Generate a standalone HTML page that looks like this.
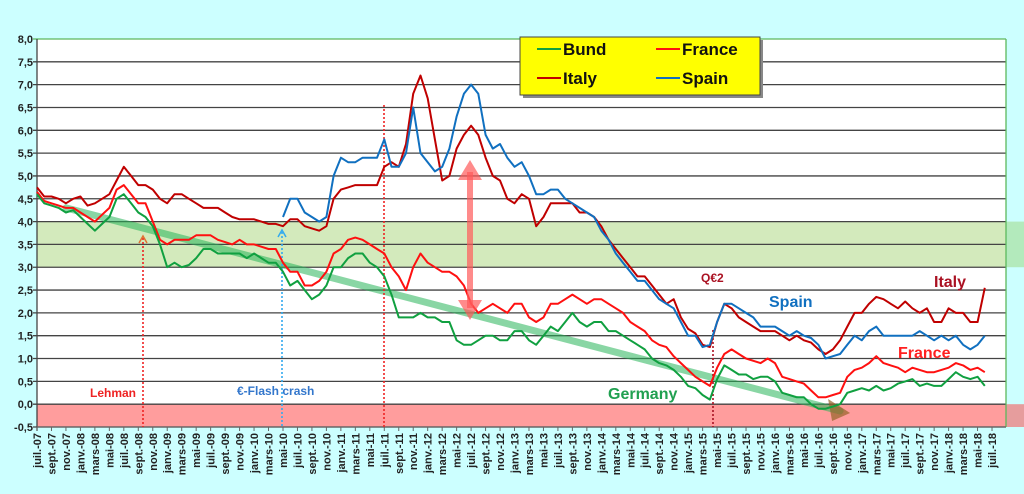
<!DOCTYPE html>
<html><head><meta charset="utf-8"><style>
html,body{margin:0;padding:0;background:#ccffff;}
svg{display:block;font-family:"Liberation Sans",Arial,sans-serif;}
</style></head><body>
<svg id="chart" width="1024" height="494" viewBox="0 0 1024 494" xmlns="http://www.w3.org/2000/svg">
<rect x="0" y="0" width="1024" height="494" fill="#ccffff"/>
<rect x="37" y="39" width="969" height="388" fill="#ffffff"/>
<g id="bands"></g>
<g id="grid"></g>
<g id="yticks"></g>
<g id="xticks"></g>
<g id="annot"></g>
<g id="series"></g>
<g id="overlay"></g>
</svg>
<script>
const yTicks=["-0,5","0,0","0,5","1,0","1,5","2,0","2,5","3,0","3,5","4,0","4,5","5,0","5,5","6,0","6,5","7,0","7,5","8,0"];
const monthNames=["juil.","sept.","nov.","janv.","mars","mai"];
const bund=[4.6,4.4,4.35,4.3,4.2,4.25,4.1,3.95,3.8,3.95,4.1,4.5,4.6,4.4,4.2,4.1,3.9,3.5,3.0,3.1,3.0,3.05,3.2,3.4,3.4,3.3,3.3,3.3,3.3,3.2,3.3,3.2,3.1,3.1,2.9,2.6,2.7,2.5,2.3,2.4,2.6,3.0,3.0,3.2,3.3,3.3,3.1,3.0,2.8,2.4,1.9,1.9,1.9,2.0,1.9,1.9,1.8,1.8,1.4,1.3,1.3,1.4,1.5,1.5,1.4,1.4,1.6,1.6,1.4,1.3,1.5,1.7,1.6,1.8,2.0,1.8,1.7,1.8,1.8,1.6,1.6,1.5,1.4,1.3,1.2,1.0,0.9,0.85,0.75,0.6,0.4,0.35,0.2,0.1,0.55,0.85,0.75,0.65,0.65,0.55,0.6,0.6,0.5,0.25,0.2,0.15,0.15,0.0,-0.1,-0.1,-0.05,0.0,0.25,0.3,0.35,0.3,0.4,0.3,0.35,0.45,0.5,0.55,0.4,0.45,0.4,0.4,0.55,0.7,0.6,0.55,0.6,0.4];
const france=[4.65,4.45,4.4,4.35,4.3,4.3,4.2,4.1,4.0,4.15,4.3,4.7,4.8,4.6,4.4,4.4,4.0,3.6,3.5,3.6,3.6,3.6,3.7,3.7,3.7,3.6,3.55,3.5,3.6,3.5,3.5,3.45,3.4,3.4,3.1,2.9,2.9,2.6,2.6,2.7,2.9,3.3,3.4,3.6,3.65,3.6,3.5,3.4,3.3,3.0,2.8,2.5,3.0,3.3,3.1,3.0,2.9,2.9,2.8,2.6,2.2,2.0,2.1,2.2,2.1,2.0,2.2,2.2,1.9,1.8,1.9,2.2,2.2,2.3,2.4,2.3,2.2,2.3,2.3,2.2,2.1,2.0,1.8,1.7,1.6,1.4,1.3,1.25,1.05,0.9,0.75,0.6,0.5,0.4,0.8,1.1,1.2,1.1,1.0,0.95,0.9,1.0,0.9,0.6,0.55,0.5,0.45,0.3,0.15,0.15,0.2,0.25,0.6,0.75,0.8,0.9,1.05,0.9,0.85,0.8,0.7,0.8,0.75,0.7,0.7,0.75,0.8,0.9,0.85,0.75,0.8,0.7];
const italy=[4.75,4.55,4.55,4.5,4.4,4.5,4.55,4.35,4.4,4.5,4.6,4.9,5.2,5.0,4.8,4.8,4.7,4.5,4.4,4.6,4.6,4.5,4.4,4.3,4.3,4.3,4.2,4.1,4.05,4.05,4.05,4.0,3.95,3.95,3.9,4.05,4.05,3.9,3.85,3.8,3.9,4.5,4.7,4.75,4.8,4.8,4.8,4.8,5.2,5.3,5.2,5.7,6.8,7.2,6.7,5.8,4.9,5.0,5.6,5.9,6.1,5.9,5.4,5.0,4.9,4.5,4.4,4.6,4.5,3.9,4.1,4.4,4.4,4.4,4.4,4.2,4.2,4.1,3.9,3.6,3.4,3.2,3.0,2.8,2.8,2.6,2.4,2.2,2.3,1.9,1.65,1.55,1.3,1.25,1.8,2.2,2.1,1.9,1.8,1.7,1.6,1.6,1.6,1.5,1.4,1.5,1.4,1.35,1.2,1.1,1.2,1.4,1.7,2.0,2.0,2.2,2.35,2.3,2.2,2.1,2.25,2.1,2.0,2.1,1.8,1.8,2.1,2.0,2.0,1.8,1.8,2.55];
const spainStart=34;
const spain=[4.1,4.5,4.5,4.2,4.1,4.0,4.1,5.0,5.4,5.3,5.3,5.4,5.4,5.4,5.8,5.2,5.2,5.5,6.5,5.5,5.3,5.1,5.2,5.6,6.3,6.8,7.0,6.8,5.9,5.6,5.7,5.4,5.2,5.3,5.0,4.6,4.6,4.7,4.7,4.5,4.4,4.3,4.2,4.1,3.8,3.6,3.3,3.1,2.9,2.7,2.7,2.5,2.3,2.2,2.1,1.8,1.5,1.5,1.25,1.3,1.8,2.2,2.2,2.1,2.0,1.9,1.7,1.7,1.7,1.6,1.5,1.6,1.5,1.45,1.3,1.0,1.05,1.1,1.3,1.5,1.4,1.6,1.7,1.5,1.5,1.5,1.5,1.5,1.6,1.5,1.4,1.5,1.4,1.5,1.3,1.2,1.3,1.5];
const trendStart=[4,4.3], trendEnd=[111,-0.15];

const NS="http://www.w3.org/2000/svg";
const X0=37,X1=1006,Y0=427,Y1=39,VMIN=-0.5,VMAX=8,MW=7.235;
function xs(m){return X0+m*MW;}
function ys(v){return Y0-(v-VMIN)/(VMAX-VMIN)*(Y0-Y1);}
function mk(tag,attrs,parent){const e=document.createElementNS(NS,tag);for(const k in attrs)e.setAttribute(k,attrs[k]);parent.appendChild(e);return e;}
const gB=document.getElementById('bands'),gG=document.getElementById('grid'),gY=document.getElementById('yticks'),gX=document.getElementById('xticks'),gA=document.getElementById('annot'),gS=document.getElementById('series'),gO=document.getElementById('overlay');

let e;
e=mk('rect',{x:X0,y:ys(4),width:1024-X0,height:ys(3)-ys(4),fill:'rgba(140,200,80,0.38)'},gB);


e=mk('rect',{x:X0,y:ys(0),width:1024-X0,height:ys(-0.5)-ys(0),fill:'rgba(255,60,60,0.5)'},gB);



yTicks.forEach((t,i)=>{const v=VMIN+i*0.5;const y=ys(v);
 const l=mk('line',{x1:X0-4,x2:X1,y1:y,y2:y,stroke:i==yTicks.length-1?'#5cb85c':'#444','stroke-width':1.3},gG);
 
 
 const tx=mk('text',{x:33,y:y+4,'text-anchor':'end','font-size':11,'font-weight':'bold',fill:'#222'},gY);tx.textContent=t;
 
 
});
e=mk('line',{x1:X0,x2:X0,y1:Y1,y2:Y0+4,stroke:'#444','stroke-width':1.3},gG);


e=mk('line',{x1:X1,x2:X1,y1:Y1,y2:Y0,stroke:'#5cb85c','stroke-width':1.3},gG);


e=mk('line',{x1:X0,x2:X1,y1:Y0,y2:Y0,stroke:'#666','stroke-width':1.3},gG);



for(let m=0;m<=132;m+=2){const x=xs(m);const yr=7+Math.floor((m+6)/12);
 const t=mk('line',{x1:x,x2:x,y1:Y0,y2:Y0+4,stroke:'#666'},gX);
 
 
 const lab=monthNames[(m/2)%6]+'-'+String(yr).padStart(2,'0');
 const tx=mk('text',{x:0,y:0,'text-anchor':'end','font-size':11,'font-weight':'bold',fill:'#222',transform:`translate(${x+4},${Y0+6}) rotate(-90)`},gX);tx.textContent=lab;
 
 
}

// trend line
e=mk('line',{x1:xs(trendStart[0]),y1:ys(trendStart[1]),x2:xs(trendEnd[0]),y2:ys(trendEnd[1]),stroke:'rgba(40,180,90,0.55)','stroke-width':7,'stroke-linecap':'round'},gA);


e=mk('polygon',{points:`${xs(trendEnd[0])-12},${ys(trendEnd[1])-12} ${xs(trendEnd[0])+10},${ys(trendEnd[1])+2} ${xs(trendEnd[0])-8},${ys(trendEnd[1])+10}`,fill:'rgba(150,100,40,0.7)'},gA);



function vline(x,y1,color,name){const l=mk('line',{x1:x,x2:x,y1:y1,y2:Y0,stroke:color,'stroke-width':1.6,'stroke-dasharray':'2,2'},gA);return l;}
vline(143,238,'#ee2222','lehman-marker');
e=mk('polyline',{points:'139,243 143,236 147,243',fill:'none',stroke:'#e07030','stroke-width':1.5},gA);


vline(282,232,'#33aaee','flash-crash-marker');
e=mk('polyline',{points:'278,237 282,230 286,237',fill:'none',stroke:'#33aaee','stroke-width':1.5},gA);


vline(384,105,'#ee2222','draghi-marker');
vline(713,330,'#aa1122','qe2-marker');

function line(arr,start,color,name){let d='';arr.forEach((v,i)=>{d+=(i?'L':'M')+xs(start+i).toFixed(1)+','+ys(v).toFixed(1);});
 const p=mk('path',{d:d,fill:'none',stroke:color,'stroke-width':2,'stroke-linejoin':'round'},gS);}
line(italy,0,'#c00000','italy-line');
line(spain,spainStart,'#1070c0','spain-line');
line(france,0,'#ff1010','france-line');
line(bund,0,'#10a040','bund-line');

// double arrow
e=mk('line',{x1:470,y1:172,x2:470,y2:308,stroke:'rgba(255,90,90,0.7)','stroke-width':6},gO);


e=mk('polygon',{points:'458,180 470,160 482,180',fill:'rgba(255,90,90,0.7)'},gO);


e=mk('polygon',{points:'458,300 470,320 482,300',fill:'rgba(255,90,90,0.7)'},gO);



function label(txt,x,y,color,size,name){const t=mk('text',{x:x,y:y,'font-size':size,'font-weight':'bold',fill:color},gO);t.textContent=txt;}
label('Lehman',90,397,'#ee2222',12,'lehman-label');
label('€-Flash crash',237,395,'#3377cc',12,'flash-crash-label');
label('Germany',608,399,'#20a050',16,'germany-label');
label('Q€2',701,282,'#aa1122',12,'qe2-label');
label('Spain',769,307,'#1070c0',16,'spain-label');
label('Italy',934,287,'#aa1122',16,'italy-label');
label('France',898,358,'#ff2020',16,'france-label');

// legend
const lg=mk('g',{},gO);


mk('rect',{x:523,y:40,width:240,height:58,fill:'#888'},lg);
mk('rect',{x:520,y:37,width:240,height:58,fill:'#ffff00',stroke:'#444','stroke-width':1},lg);
[['Bund','#10a040',537,55],['France','#ff1010',656,55],['Italy','#c00000',537,84],['Spain','#1070c0',656,84]].forEach(a=>{
 const g=mk('g',{},lg);
 mk('line',{x1:a[2],x2:a[2]+24,y1:a[3]-6,y2:a[3]-6,stroke:a[1],'stroke-width':2},g);
 const t=mk('text',{x:a[2]+26,y:a[3],'font-size':17,'font-weight':'bold',fill:'#111'},g);t.textContent=a[0];});
</script>
</body></html>
